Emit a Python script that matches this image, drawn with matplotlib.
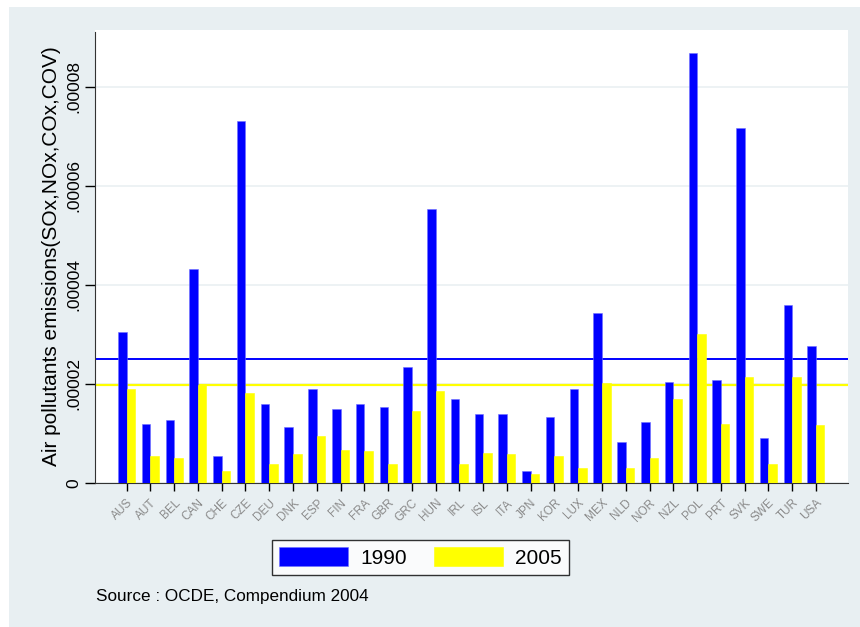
import matplotlib
matplotlib.use("Agg")
import matplotlib.pyplot as plt
import numpy as np
from matplotlib.patches import Rectangle
from matplotlib.ticker import FuncFormatter

plt.rcParams['font.family'] = ['Liberation Sans', 'DejaVu Sans']

# countries (OECD codes)
countries = ["AUS", "AUT", "BEL", "CAN", "CHE", "CZE", "DEU", "DNK", "ESP", "FIN",
             "FRA", "GBR", "GRC", "HUN", "IRL", "ISL", "ITA", "JPN", "KOR", "LUX",
             "MEX", "NLD", "NOR", "NZL", "POL", "PRT", "SVK", "SWE", "TUR", "USA"]

# emissions (units of 1e-5)
em_1990 = [3.04, 1.20, 1.27, 4.32, 0.55, 7.31, 1.59, 1.14, 1.89, 1.49,
           1.59, 1.53, 2.34, 5.53, 1.69, 1.39, 1.39, 0.24, 1.33, 1.89,
           3.43, 0.83, 1.23, 2.05, 8.69, 2.09, 7.18, 0.90, 3.60, 2.77]
em_2005 = [1.89, 0.55, 0.51, 1.97, 0.24, 1.82, 0.38, 0.58, 0.94, 0.67,
           0.64, 0.38, 1.46, 1.85, 0.38, 0.61, 0.58, 0.175, 0.55, 0.31,
           2.01, 0.31, 0.51, 1.69, 3.00, 1.20, 2.15, 0.38, 2.15, 1.165]

# horizontal reference lines (means)
mean_1990 = 2.50
mean_2005 = 1.97

scale = 1e-5
y_1990 = np.array(em_1990) * scale
y_2005 = np.array(em_2005) * scale

W, H = 860, 627
fig = plt.figure(figsize=(W / 100, H / 100), dpi=100)
fig.patch.set_facecolor("white")
bg = "#E8EFF2"
fig.patches.append(Rectangle((9 / W, 0), 1 - 9 / W, 1 - 7 / H, transform=fig.transFigure,
                             facecolor=bg, edgecolor="none", zorder=-10))

ax = fig.add_axes([95 / W, 1 - 483 / H, (848 - 95) / W, (483 - 30) / H])
ax.set_facecolor("white")

x = np.arange(len(countries))
bw = 0.36
ax.bar(x - bw / 2, y_1990, bw, color="#0000FF", edgecolor="#6f6fff", linewidth=0.4,
       label="1990", zorder=3)
ax.bar(x + bw / 2, y_2005, bw, color="#FFFF00", edgecolor="#FFFF00", linewidth=0.4,
       label="2005", zorder=3)

ax.axhline(mean_1990 * scale, color="#0000FF", lw=1.4, zorder=2)
ax.axhline(mean_2005 * scale, color="#FFFF00", lw=1.6, zorder=2)

ax.set_xlim(-1.33, len(countries) - 1 + 1.35)
ax.set_ylim(0, 9.15e-5)

yt = np.arange(0, 9e-5, 2e-5)
ax.set_yticks(yt)
ax.yaxis.set_major_formatter(FuncFormatter(lambda v, p: "0" if v == 0 else ("%.5f" % v)[1:]))
ax.grid(axis="y", color="#EAF0F2", lw=1.2, zorder=0)
ax.set_axisbelow(True)

ax.set_xticks(x)
ax.set_xticklabels(countries, rotation=45, ha="right", rotation_mode="anchor",
                   color="#8a8a8a", fontsize=8.5)
for lab in ax.get_yticklabels():
    lab.set_rotation(90)
    lab.set_va("center")
ax.tick_params(axis="y", labelsize=12.5, length=7, width=1, pad=3)
ax.tick_params(axis="x", length=6, width=1, pad=4)

for s in ["top", "right"]:
    ax.spines[s].set_visible(False)
ax.spines["left"].set_color("#333333")
ax.spines["bottom"].set_color("#333333")
ax.spines["left"].set_bounds(0, 9.1e-5)

ax.set_ylabel("Air pollutants emissions(SOx,NOx,COx,COV)", fontsize=15, labelpad=4)

leg = fig.legend(loc="center", bbox_to_anchor=(420.5 / W, 1 - 557.5 / H), ncol=2,
                 fontsize=15, frameon=True, fancybox=False, handlelength=3.3,
                 handleheight=1.0, handletextpad=0.6, columnspacing=1.3,
                 borderpad=0.35)
leg.get_frame().set_edgecolor("black")
leg.get_frame().set_linewidth(1.0)

fig.text(96 / W, 1 - 597 / H, "Source : OCDE, Compendium 2004", fontsize=12.3,
         va="center", ha="left")

fig.savefig("out.png", dpi=100, facecolor=fig.get_facecolor())
